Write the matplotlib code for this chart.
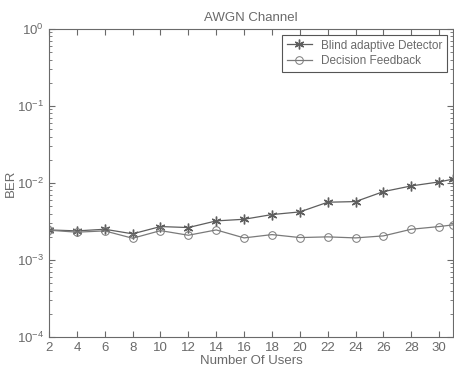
import matplotlib
matplotlib.use("Agg")
import matplotlib.pyplot as plt
from matplotlib.ticker import LogLocator, NullFormatter

plt.rcParams["font.family"] = ["Liberation Sans", "DejaVu Sans"]
plt.rcParams["mathtext.fontset"] = "custom"
plt.rcParams["mathtext.rm"] = "Liberation Sans"

# Data
users = [2, 4, 6, 8, 10, 12, 14, 16, 18, 20, 22, 24, 26, 28, 30, 31]
ber_blind = [2.45e-3, 2.38e-3, 2.50e-3, 2.18e-3, 2.71e-3, 2.63e-3, 3.21e-3, 3.37e-3,
             3.88e-3, 4.20e-3, 5.61e-3, 5.72e-3, 7.71e-3, 9.14e-3, 1.03e-2, 1.12e-2]
ber_dfe = [2.43e-3, 2.29e-3, 2.38e-3, 1.91e-3, 2.40e-3, 2.09e-3, 2.45e-3, 1.93e-3,
           2.13e-3, 1.95e-3, 1.99e-3, 1.93e-3, 2.05e-3, 2.50e-3, 2.71e-3, 2.85e-3]
xticks = list(range(2, 31, 2))

grey = "#6a6a6a"
fig = plt.figure(figsize=(4.54, 3.71), dpi=100)
ax = fig.add_axes([0.108, 0.092, 0.89, 0.830])

# MATLAB-style asterisk marker
ax.semilogy(users, ber_blind, color="#5e5e5e", lw=0.9, marker=(6, 2, 0), ms=7, mew=1.0,
            label="Blind adaptive Detector")
ax.semilogy(users, ber_dfe, color="#7a7a7a", lw=0.9, marker="o", ms=5.5, mfc="none",
            mew=0.7, label="Decision Feedback")

ax.set_xlim(2, 31)
ax.set_ylim(1e-4, 1)
ax.set_xticks(xticks)
ax.yaxis.set_major_locator(LogLocator(base=10, numticks=10))
ax.yaxis.set_minor_locator(LogLocator(base=10, subs=range(2, 10), numticks=10))
ax.yaxis.set_minor_formatter(NullFormatter())
ax.tick_params(which="both", direction="in", top=True, right=True,
               colors=grey, labelsize=9.5)
ax.tick_params(which="major", length=4)
ax.tick_params(which="minor", length=2)
for s in ax.spines.values():
    s.set_color(grey)
    s.set_linewidth(0.8)

ax.set_title("AWGN Channel", fontsize=9.5, color=grey, pad=6)
ax.set_xlabel("Number Of Users", fontsize=9.5, color=grey, labelpad=1)
ax.set_ylabel("BER", fontsize=9.5, color=grey, labelpad=0)

leg = ax.legend(loc="upper right", fontsize=8.5, fancybox=False, framealpha=1,
                edgecolor="#555555", borderaxespad=0.5, handlelength=2.1,
                labelspacing=0.3)
for t in leg.get_texts():
    t.set_color(grey)
leg.get_frame().set_linewidth(0.8)

fig.savefig("out.png", dpi=100)
